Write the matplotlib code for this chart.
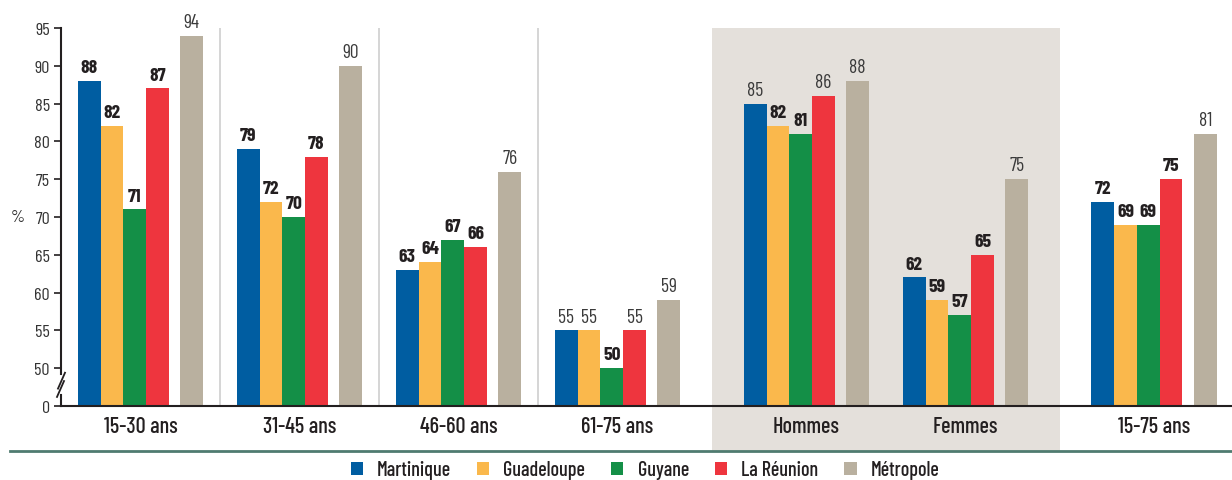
import numpy as np
import matplotlib.pyplot as plt
from matplotlib.patches import Patch, Rectangle
from matplotlib.lines import Line2D
from matplotlib.transforms import blended_transform_factory

plt.rcParams['font.family'] = ['Barlow Condensed', 'DejaVu Sans']

# données
categories = ['15-30 ans', '31-45 ans', '46-60 ans', '61-75 ans', 'Hommes', 'Femmes', '15-75 ans']
regions = ['Martinique', 'Guadeloupe', 'Guyane', 'La Réunion', 'Métropole']
martinique = [88, 79, 63, 55, 85, 62, 72]
guadeloupe = [82, 72, 64, 55, 82, 59, 69]
guyane = [71, 70, 67, 50, 81, 57, 69]
reunion = [87, 78, 66, 55, 86, 65, 75]
metropole = [94, 90, 76, 59, 88, 75, 81]
# valeurs en gras (écart significatif avec la métropole)
gras_martinique = [1, 1, 1, 0, 0, 1, 1]
gras_guadeloupe = [1, 1, 1, 0, 1, 1, 1]
gras_guyane = [1, 1, 1, 1, 1, 1, 1]
gras_reunion = [1, 1, 1, 0, 0, 1, 1]
gras_metropole = [0, 0, 0, 0, 0, 0, 0]
yticklabels = ['0', '50', '55', '60', '65', '70', '75', '80', '85', '90', '95']

series = [martinique, guadeloupe, guyane, reunion, metropole]
gras = [gras_martinique, gras_guadeloupe, gras_guyane, gras_reunion, gras_metropole]
colors = ['#005da1', '#fab84c', '#148f47', '#ee353e', '#b9b09f']

base = 45  # axe coupé : 0 puis 50..95
W, H = 1232, 481
fig = plt.figure(figsize=(W / 100, H / 100), dpi=100)
ax = fig.add_axes([61 / W, 74 / H, (W - 61) / W, 378 / H])

# positions des groupes (unités ~ pixels)
step = 159
extra = np.array([0, 0, 0, 0, 30, 30, 59.5])
centers = 79.5 + step * np.arange(len(categories)) + extra
w = 22.75
offsets = np.array([-2.25, -1.25, -0.25, 0.75, 2.25]) * w

# fond grisé Hommes / Femmes
half = (centers[4] - centers[3]) / 2
trans = blended_transform_factory(ax.transData, ax.transAxes)
ax.add_patch(Rectangle((centers[4] - half, -0.119), centers[5] - centers[4] + 2 * half, 1.119,
                       transform=trans, facecolor='#e4e0db', edgecolor='none',
                       clip_on=False, zorder=0))

# séparateurs
for i in range(3):
    xs = (centers[i] + centers[i + 1]) / 2
    ax.plot([xs, xs], [0, 50], color='#d2d2d2', lw=1.3, zorder=1)

for k, vals in enumerate(series):
    x = centers + offsets[k]
    h = np.array(vals) - base
    ax.bar(x, h, width=w, color=colors[k], zorder=2, linewidth=0)
    for xi, hi, v, b in zip(x, h, vals, gras[k]):
        ax.annotate(str(v), (xi, hi), xytext=(0, 3.5), textcoords='offset points',
                    ha='center', va='bottom', fontsize=14,
                    fontweight='bold' if b else 'normal',
                    color='#231f20' if b else '#3a3a3a')

ax.set_xlim(0, W - 61)
ax.set_ylim(0, 50)
ax.set_yticks(np.arange(0, 51, 5))
ax.set_yticklabels(yticklabels, fontsize=13, color='#333333')
ax.tick_params(axis='y', direction='out', length=5, width=1.2, color='#231f20', pad=3)
ax.set_xticks(centers)
ax.set_xticklabels(categories, fontsize=16, color='#231f20', fontweight='medium')
ax.tick_params(axis='x', length=0, pad=7)

for s in ['top', 'right', 'left']:
    ax.spines[s].set_visible(False)
ax.spines['bottom'].set_linewidth(1.5)
ax.spines['bottom'].set_color('#231f20')

# axe vertical coupé
ax.plot([0, 0], [0, 1.5], color='#231f20', lw=1.5, clip_on=False, zorder=3)
ax.plot([0, 0], [4.2, 50], color='#231f20', lw=1.5, clip_on=False, zorder=3)
ax.plot([-4, 3], [1.2, 3.3], color='#231f20', lw=1.3, clip_on=False, zorder=3)
ax.plot([-3, 4], [2.3, 4.4], color='#231f20', lw=1.3, clip_on=False, zorder=3)

fig.text(18 / W, 1 - 218 / H, '%', fontsize=13, color='#333333', ha='center', va='center')

# ligne verte sous l'axe
fig.add_artist(Line2D([10 / W, 1], [29 / H, 29 / H], color='#4f7b70', lw=2))

handles = [Patch(facecolor=c, edgecolor='none') for c in colors]
fig.legend(handles, regions, loc='center', bbox_to_anchor=(645 / W, 10 / H), ncol=5,
           frameon=False, prop={'size': 14.5, 'weight': 'medium'},
           handlelength=0.6, handleheight=0.6,
           handletextpad=0.7, columnspacing=1.3, borderaxespad=0, labelcolor='#231f20')

plt.savefig('out.png', dpi=100)
